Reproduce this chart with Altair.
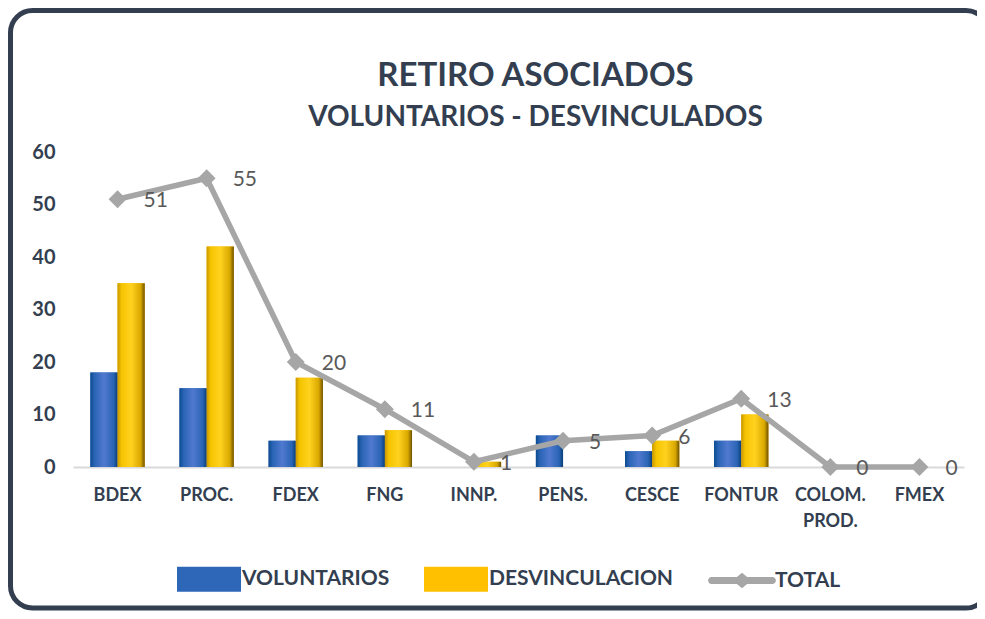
import altair as alt
import pandas as pd

categories = ["BDEX", "PROC.", "FDEX", "FNG", "INNP.", "PENS.", "CESCE", "FONTUR", "COLOM. PROD.", "FMEX"]
voluntarios = [18, 15, 5, 6, 0, 6, 3, 5, 0, 0]
desvinculacion = [35, 42, 17, 7, 1, 0, 5, 10, 0, 0]
total = [51, 55, 20, 11, 1, 5, 6, 13, 0, 0]
series_names = ["VOLUNTARIOS", "DESVINCULACION", "TOTAL"]
y_ticks = [0, 10, 20, 30, 40, 50, 60]

bars_df = pd.DataFrame({
    "cat": categories * 2,
    "serie": [series_names[0]] * len(categories) + [series_names[1]] * len(categories),
    "valor": voluntarios + desvinculacion,
})
tot_df = pd.DataFrame({"cat": categories, "valor": total, "serie": [series_names[2]] * len(categories)})
frame_df = pd.DataFrame({"k": [0]})

FONT = "Lato"
DARK = "#333f50"
BLUE = "#2e67b8"
YELLOW = "#ffc000"
GRAY = "#a6a6a6"

RECT = "M-1,-0.39H1V0.39H-1Z"
LINE_DIAMOND = ("M-0.95,-0.11H-0.16L0,-0.24L0.16,-0.11H0.95A0.11,0.11,0,0,1,0.95,0.11"
                "H0.16L0,0.24L-0.16,0.11H-0.95A0.11,0.11,0,0,1,-0.95,-0.11Z")

blue_grad = alt.LinearGradient(
    gradient="linear", x1=0, x2=1, y1=0, y2=0,
    stops=[alt.GradientStop(color="#0b4a8f", offset=0),
           alt.GradientStop(color="#2a64b4", offset=0.15),
           alt.GradientStop(color="#5079cf", offset=0.5),
           alt.GradientStop(color="#2a64b4", offset=0.85),
           alt.GradientStop(color="#0a3f7a", offset=1)])
yellow_grad = alt.LinearGradient(
    gradient="linear", x1=0, x2=1, y1=0, y2=0,
    stops=[alt.GradientStop(color="#c99700", offset=0),
           alt.GradientStop(color="#f5c400", offset=0.15),
           alt.GradientStop(color="#ffd21f", offset=0.5),
           alt.GradientStop(color="#d9a800", offset=0.85),
           alt.GradientStop(color="#6e5200", offset=1)])

x_enc = alt.X(
    "cat:N", sort=categories,
    scale=alt.Scale(paddingInner=0.39, paddingOuter=0.195),
    axis=alt.Axis(title=None, labelAngle=0, labelFont=FONT, labelFontSize=18,
                  labelFontWeight="bold", labelColor=DARK, labelPadding=19,
                  ticks=False, domainColor="#d9d9d9", domainWidth=2,
                  labelExpr="split(datum.label, ' ')", labelLineHeight=26),
)
y_enc = alt.Y(
    "valor:Q", scale=alt.Scale(domain=[0, 60]),
    axis=alt.Axis(title=None, values=y_ticks, grid=False, ticks=False, domain=False,
                  labelFont=FONT, labelFontSize=20, labelFontWeight="bold",
                  labelColor=DARK, labelPadding=18),
)
xoff = alt.XOffset("serie:N", sort=series_names[:2],
                   scale=alt.Scale(domain=series_names[:2], paddingInner=0, paddingOuter=0))

legend = alt.Legend(title=None)
color_scale = alt.Scale(domain=series_names, range=[BLUE, YELLOW, GRAY])
color_enc = alt.Color("serie:N", scale=color_scale, legend=legend)
shape_enc = alt.Shape("serie:N", scale=alt.Scale(domain=series_names, range=[RECT, RECT, LINE_DIAMOND]), legend=legend)

frame = alt.Chart(frame_df).mark_rect(fill="white", fillOpacity=0, stroke=DARK, strokeWidth=5, cornerRadius=22).encode(
    x=alt.value(-62.5), x2=alt.value(915), y=alt.value(-141.5), y2=alt.value(456)
)

bars = alt.Chart(bars_df).mark_bar().encode(x=x_enc, xOffset=xoff, y=y_enc, color=color_enc)
bars_blue = alt.Chart(bars_df).transform_filter(alt.datum.serie == series_names[0]).mark_bar(color=blue_grad).encode(
    x=x_enc, xOffset=xoff, y=y_enc)
bars_yellow = alt.Chart(bars_df).transform_filter(alt.datum.serie == series_names[1]).mark_bar(color=yellow_grad).encode(
    x=x_enc, xOffset=xoff, y=y_enc)

line = alt.Chart(tot_df).mark_line(color=GRAY, strokeWidth=5.5).encode(x=x_enc, y=y_enc)
points = alt.Chart(tot_df).mark_point(shape="diamond", filled=True, size=320, opacity=1, color=GRAY).encode(
    x=x_enc, y=y_enc)
labels = alt.Chart(tot_df).mark_text(align="left", baseline="middle", dx=26, dy=2, fontSize=21,
                                     font=FONT, color="#595959").encode(x=x_enc, y=y_enc, text="valor:Q")
# legend-only layer (no rows survive the filter)
legend_layer = alt.Chart(tot_df).transform_filter(alt.datum.valor < 0).mark_point(filled=True, opacity=1).encode(
    x=x_enc, y=y_enc, color=color_enc, shape=shape_enc)

chart = alt.layer(frame, bars, bars_blue, bars_yellow, line, points, labels, legend_layer).properties(
    width=891, height=315,
    autosize=alt.AutoSizeParams(type="none"),
    padding={"left": 65, "top": 144, "right": 13, "bottom": 144},
    title=alt.TitleParams(
        text="RETIRO ASOCIADOS", subtitle="VOLUNTARIOS - DESVINCULADOS",
        font=FONT, fontSize=33, fontWeight="bold", color=DARK,
        subtitleFont=FONT, subtitleFontSize=28, subtitleFontWeight="bold", subtitleColor=DARK,
        anchor="middle", frame="group", dx=17, dy=146, offset=22, subtitlePadding=11, zindex=2,
    ),
).configure_view(stroke=None).configure_legend(
    orient="none", legendX=104, legendY=395, direction="horizontal", padding=0,
    symbolSize=4096, symbolStrokeWidth=0, symbolOpacity=1,
    labelFont=FONT, labelFontSize=21, labelFontWeight="bold", labelColor=DARK,
    labelOffset=1, columnPadding=34, labelLimit=400,
).properties(background="white")

chart.save("out.html", embed_options={"renderer": "svg", "actions": False})
